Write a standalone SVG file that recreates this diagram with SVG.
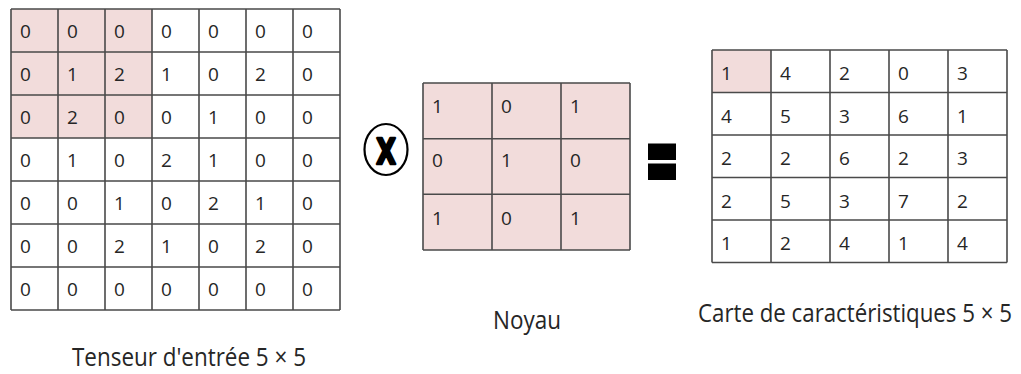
<svg xmlns="http://www.w3.org/2000/svg" width="1021" height="374" viewBox="0 0 1021 374">
  <style>
    .grid { fill: none; stroke: #4a4a4a; stroke-width: 1.6; }
    .hl { fill: #f2dcdb; }
    .num { font-family: "Open Sans", "Liberation Sans", sans-serif; font-size: 19px; fill: #262626; }
    .label { font-family: "Open Sans", "Liberation Sans", sans-serif; font-size: 25px; fill: #262626; }
  </style>
  <rect width="1021" height="374" fill="#ffffff"/>

  <!-- Input tensor, 7x7 with zero padding -->
  <g id="input-tensor">
    <rect class="hl" x="11" y="9" width="141" height="129"/>
    <path class="grid" d="M11 9H340M11 52H340M11 95H340M11 138H340M11 181H340M11 224H340M11 267H340M11 310H340
                          M11 9V310M58 9V310M105 9V310M152 9V310M199 9V310M246 9V310M293 9V310M340 9V310"/>
    <g class="num">
      <text x="20" y="38">0</text><text x="67" y="38">0</text><text x="114" y="38">0</text><text x="161" y="38">0</text><text x="208" y="38">0</text><text x="255" y="38">0</text><text x="302" y="38">0</text>
      <text x="20" y="81">0</text><text x="67" y="81">1</text><text x="114" y="81">2</text><text x="161" y="81">1</text><text x="208" y="81">0</text><text x="255" y="81">2</text><text x="302" y="81">0</text>
      <text x="20" y="124">0</text><text x="67" y="124">2</text><text x="114" y="124">0</text><text x="161" y="124">0</text><text x="208" y="124">1</text><text x="255" y="124">0</text><text x="302" y="124">0</text>
      <text x="20" y="167">0</text><text x="67" y="167">1</text><text x="114" y="167">0</text><text x="161" y="167">2</text><text x="208" y="167">1</text><text x="255" y="167">0</text><text x="302" y="167">0</text>
      <text x="20" y="210">0</text><text x="67" y="210">0</text><text x="114" y="210">1</text><text x="161" y="210">0</text><text x="208" y="210">2</text><text x="255" y="210">1</text><text x="302" y="210">0</text>
      <text x="20" y="253">0</text><text x="67" y="253">0</text><text x="114" y="253">2</text><text x="161" y="253">1</text><text x="208" y="253">0</text><text x="255" y="253">2</text><text x="302" y="253">0</text>
      <text x="20" y="296">0</text><text x="67" y="296">0</text><text x="114" y="296">0</text><text x="161" y="296">0</text><text x="208" y="296">0</text><text x="255" y="296">0</text><text x="302" y="296">0</text>
    </g>
    <text class="label" x="72" y="366" textLength="234" lengthAdjust="spacingAndGlyphs">Tenseur d'entrée 5 × 5</text>
  </g>

  <!-- Operators between the grids -->
  <g id="operators">
    <g id="op-convolve">
      <ellipse cx="386" cy="149.5" rx="21.5" ry="25.5" fill="#ffffff" stroke="#000000" stroke-width="2.2"/>
      <text x="386" y="162" text-anchor="middle" font-family="DejaVu Sans, sans-serif" font-weight="bold" font-size="30" fill="#000000" stroke="#000000" stroke-width="2.2" stroke-linejoin="round" transform="translate(386 149.5) scale(0.85 1.2) translate(-386 -149.5)">X</text>
    </g>
    <g id="op-equals" fill="#000000">
      <rect x="648" y="143.5" width="28" height="16.5"/>
      <rect x="648" y="163.5" width="28" height="16.5"/>
    </g>
  </g>

  <!-- Kernel, 3x3 -->
  <g id="kernel">
    <rect class="hl" x="423" y="83" width="207" height="167"/>
    <path class="grid" d="M423 83H630M423 138.7H630M423 194.3H630M423 250H630
                          M423 83V250M492 83V250M561 83V250M630 83V250"/>
    <g class="num">
      <text x="432" y="113">1</text><text x="501" y="113">0</text><text x="570" y="113">1</text>
      <text x="432" y="167">0</text><text x="501" y="167">1</text><text x="570" y="167">0</text>
      <text x="432" y="225">1</text><text x="501" y="225">0</text><text x="570" y="225">1</text>
    </g>
    <text class="label" x="493" y="329" textLength="68" lengthAdjust="spacingAndGlyphs">Noyau</text>
  </g>

  <!-- Feature map, 5x5 -->
  <g id="feature-map">
    <rect class="hl" x="712" y="50" width="59" height="42.5"/>
    <path class="grid" d="M712 50H1007M712 92.5H1007M712 135H1007M712 177.5H1007M712 220H1007M712 262.5H1007
                          M712 50V262.5M771 50V262.5M830 50V262.5M889 50V262.5M948 50V262.5M1007 50V262.5"/>
    <g class="num">
      <text x="721" y="80">1</text><text x="780" y="80">4</text><text x="839" y="80">2</text><text x="898" y="80">0</text><text x="957" y="80">3</text>
      <text x="721" y="122.5">4</text><text x="780" y="122.5">5</text><text x="839" y="122.5">3</text><text x="898" y="122.5">6</text><text x="957" y="122.5">1</text>
      <text x="721" y="165">2</text><text x="780" y="165">2</text><text x="839" y="165">6</text><text x="898" y="165">2</text><text x="957" y="165">3</text>
      <text x="721" y="207.5">2</text><text x="780" y="207.5">5</text><text x="839" y="207.5">3</text><text x="898" y="207.5">7</text><text x="957" y="207.5">2</text>
      <text x="721" y="250">1</text><text x="780" y="250">2</text><text x="839" y="250">4</text><text x="898" y="250">1</text><text x="957" y="250">4</text>
    </g>
    <!-- smaller size stretched vertically so the long caption keeps its height but fits the width -->
    <text class="label" style="font-size:21.5px" x="0" y="0" transform="translate(698 322) scale(1 1.16)" textLength="314" lengthAdjust="spacingAndGlyphs">Carte de caractéristiques 5 × 5</text>
  </g>
</svg>
